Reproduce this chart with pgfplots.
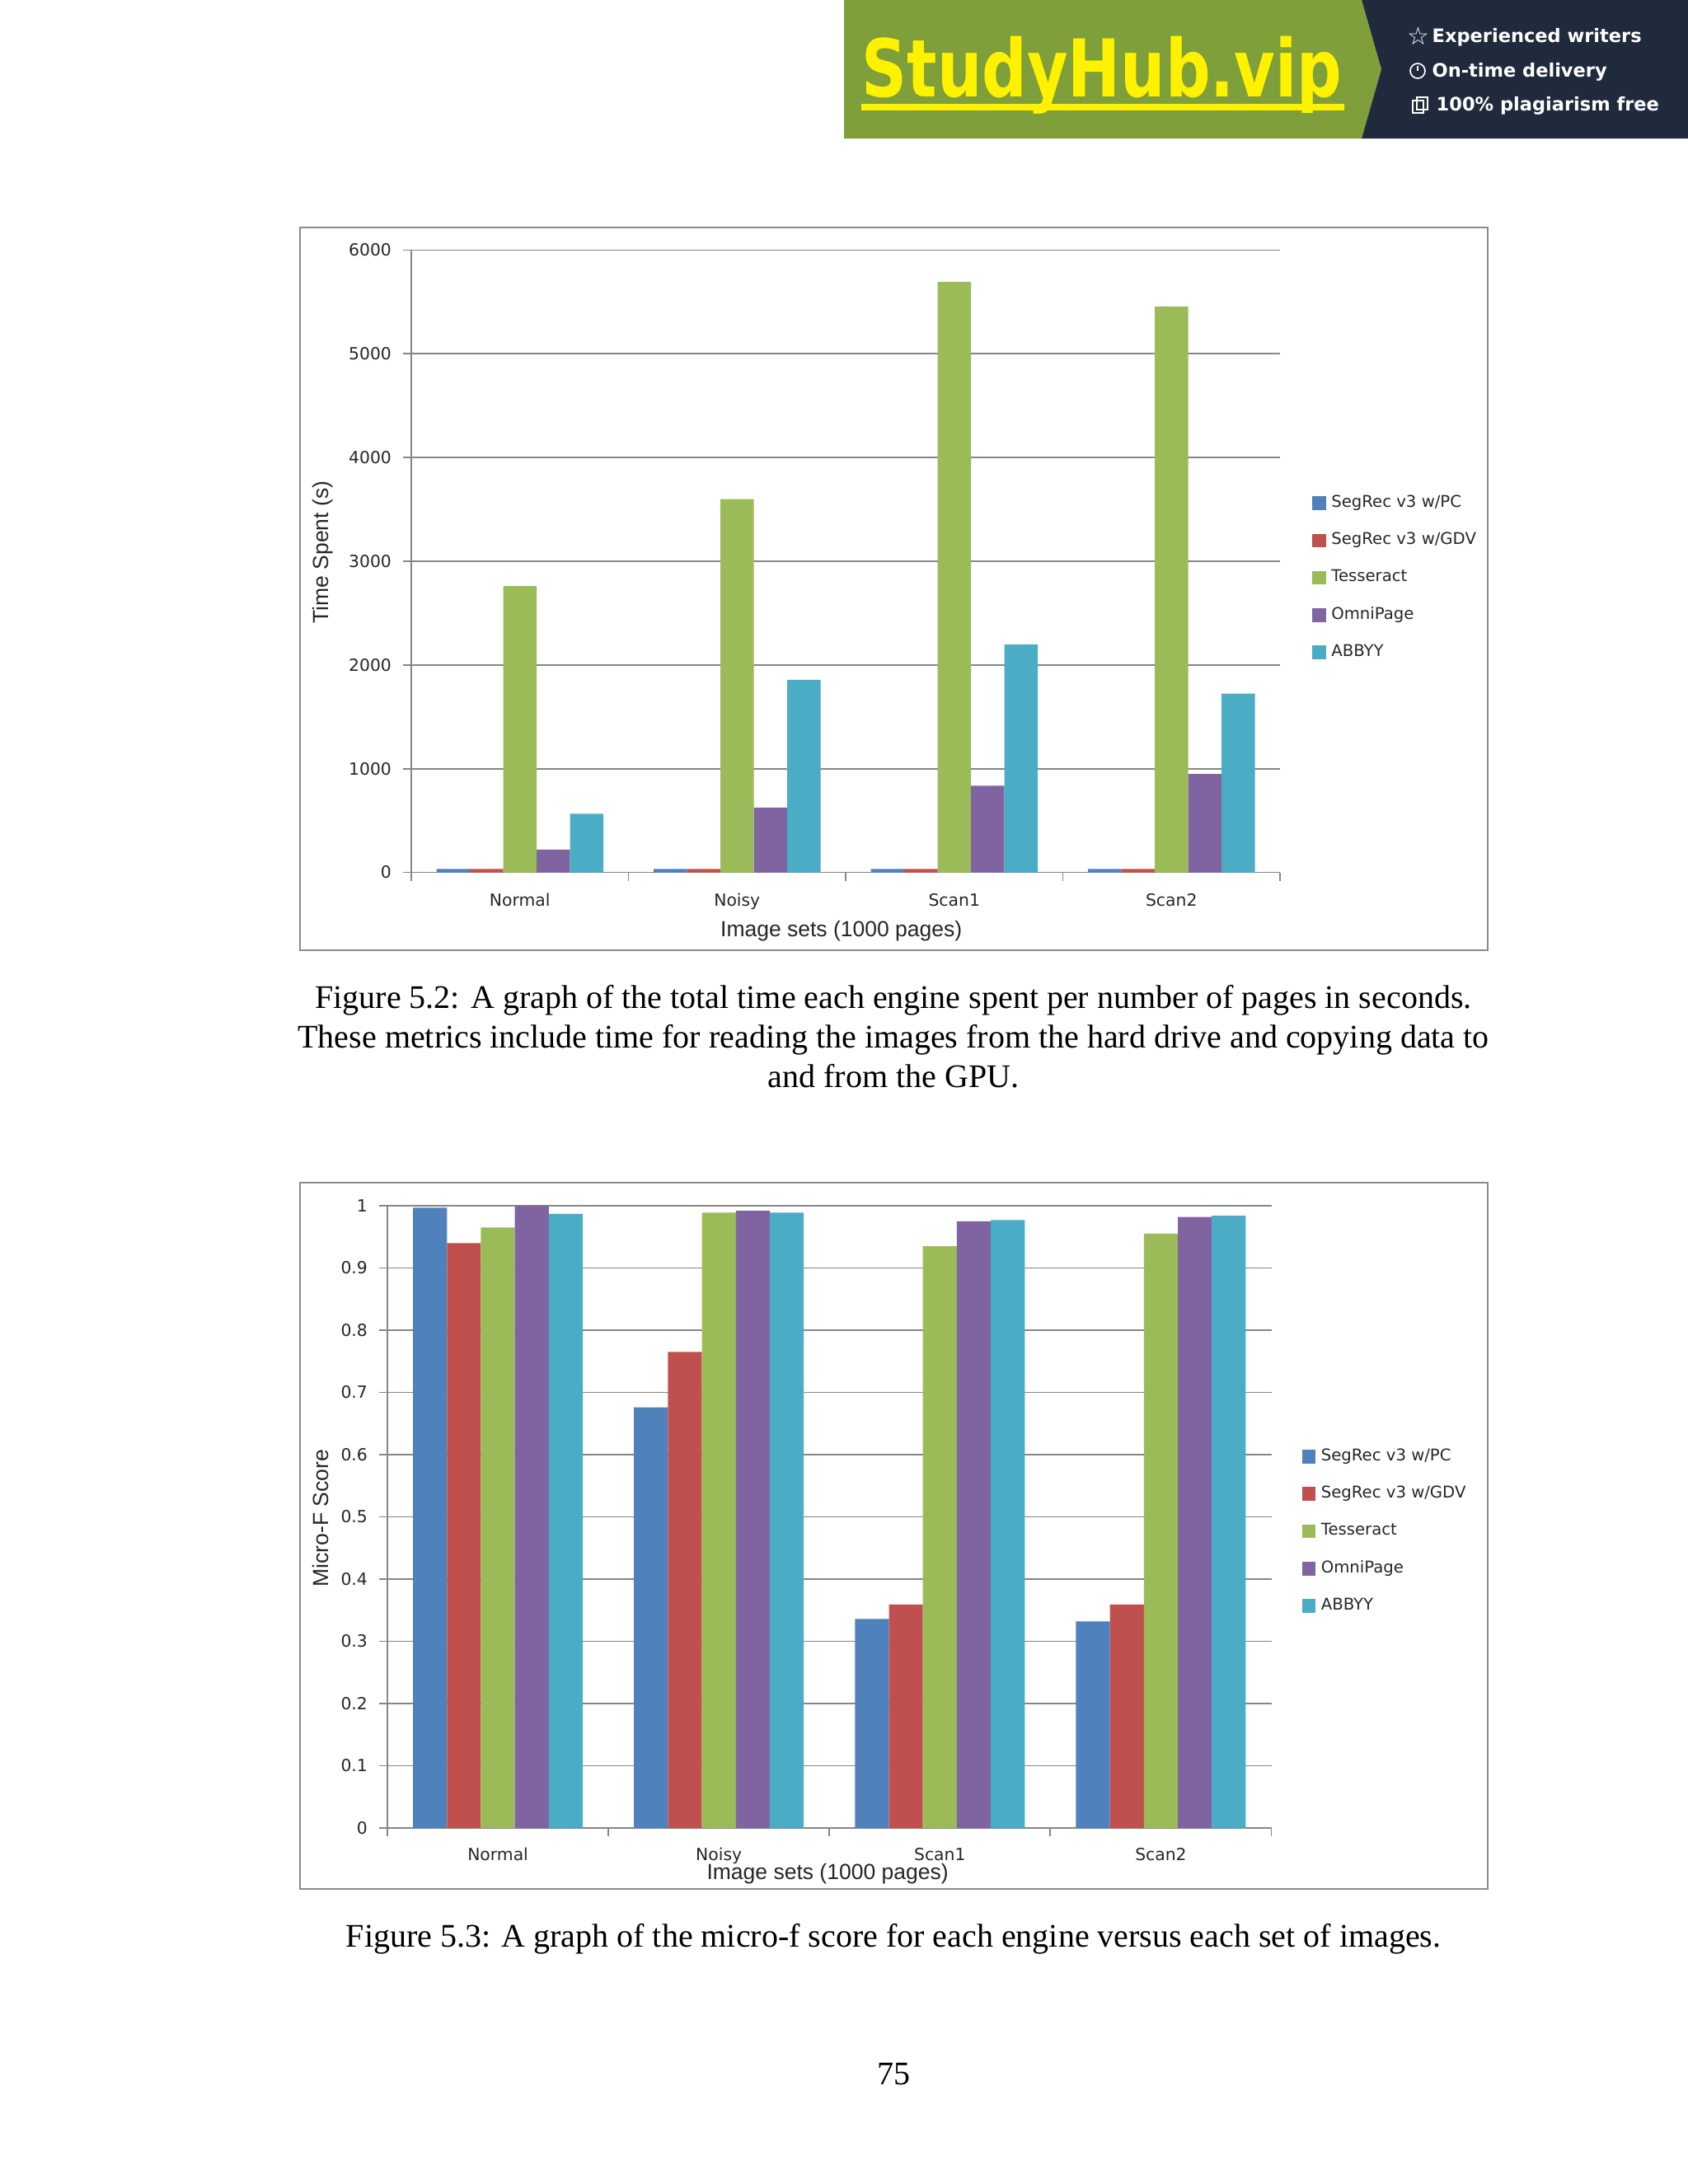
\documentclass[border=0pt]{standalone}
\usepackage{fontspec}
\usepackage{graphicx}
\setmainfont{Liberation Serif}
\newfontfamily\chartfont{DejaVu Sans}
\newfontfamily\labelfont{Liberation Sans}
\usepackage{pgfplots}
\usepackage{pgfplotstable}
\pgfplotsset{compat=1.18}

\definecolor{c1}{HTML}{4F81BD}
\definecolor{c2}{HTML}{C0504D}
\definecolor{c3}{HTML}{9BBB59}
\definecolor{c4}{HTML}{8064A2}
\definecolor{c5}{HTML}{4BACC6}
\definecolor{gridc}{HTML}{868686}
\definecolor{framec}{HTML}{8C8C8C}
\definecolor{bannergreen}{HTML}{7F9F3A}
\definecolor{bannerdark}{HTML}{1F2A3C}
\definecolor{tickc}{HTML}{262626}

% 1 px of the reference = 0.3pt
\pgfplotstableread{
x pc gdv tess omni abbyy
0 32 32 2760 219 566
1 32 32 3600 625 1857
2 32 32 5693 835 2199
3 32 32 5456 949 1724
}\timedata

\pgfplotstableread{
x pc gdv tess omni abbyy
0 0.997 0.940 0.965 1.000 0.987
1 0.676 0.765 0.989 0.992 0.989
2 0.336 0.359 0.935 0.975 0.977
3 0.332 0.359 0.955 0.982 0.984
}\scoredata

\pgfplotsset{
  swatch/.style={legend image code/.code={\fill[##1] (0pt,-2.5pt) rectangle (5pt,2.5pt);}},
  chartbase/.style={
    scale only axis,
    ybar=0pt,
    xmin=-0.5, xmax=3.5,
    ymin=0,
    xtick={-0.5,0.5,1.5,2.5,3.5},
    x tick label as interval,
    xticklabels={Normal,Noisy,Scan1,Scan2},
    axis x line*=bottom,
    axis y line*=left,
    axis line style={draw=gridc,line width=0.55pt},
    ymajorgrids,
    grid style={draw=gridc,line width=0.55pt},
    tick align=outside,
    tick style={draw=gridc,line width=0.55pt},
    major tick length=3pt,
    /pgf/number format/assume math mode=true,
    /pgf/number format/1000 sep={},
    tick label style={font=\chartfont\fontsize{6.1}{7}\selectfont,text=tickc},
    label style={font=\labelfont\fontsize{7.95}{10}\selectfont,text=tickc},
    legend cell align=left,
    legend style={draw=none,fill=none,inner sep=0pt,outer sep=0pt,
      font=\chartfont\fontsize{5.9}{7}\selectfont,text=tickc,
      row sep=3.7pt,
      /tikz/every even column/.append style={column sep=-1.3pt}},
    legend columns=1,
  },
}

\begin{document}
\begin{tikzpicture}
\path[use as bounding box] (0,0) rectangle (614.4pt,-795pt);

\begin{scope}[x=0.3pt,y=-0.3pt]
  % banner
  \fill[bannergreen] (1024,0) -- (1652,0) -- (1676,84) -- (1652,168) -- (1024,168) -- cycle;
  \fill[bannerdark] (1652,0) -- (2048,0) -- (2048,168) -- (1652,168) -- (1676,84) -- cycle;
  \node[anchor=base,text=yellow,inner sep=0pt] at (1337,117)
    {\scalebox{0.79}[1]{\chartfont\bfseries\fontsize{29}{30}\selectfont StudyHub.vip}};
  \fill[yellow] (1045,126) rectangle (1631,134);
  \node[anchor=base west,text=white,inner sep=0pt] at (1737,51) {\chartfont\bfseries\fontsize{6.75}{8}\selectfont Experienced writers};
  \node[anchor=base west,text=white,inner sep=0pt] at (1737,93) {\chartfont\bfseries\fontsize{6.75}{8}\selectfont On-time delivery};
  \node[anchor=base west,text=white,inner sep=0pt] at (1742,134) {\chartfont\bfseries\fontsize{6.75}{8}\selectfont 100\% plagiarism free};
  \node[text=white,inner sep=0pt] at (1721,44) {\chartfont\fontsize{9}{9}\selectfont ☆};
  \draw[white,line width=0.5pt] (1720,86) circle (9);
  \draw[white,line width=0.4pt] (1720,86) -- (1720,80);
  \draw[white,line width=0.5pt] (1714,122) rectangle (1727,137);
  \draw[white,line width=0.5pt] (1719,118) rectangle (1732,133);

  % frames round the two charts
  \draw[framec,line width=0.6pt] (364,276) rectangle (1805,1153);
  \draw[framec,line width=0.6pt] (364,1435) rectangle (1805,2292);

  % captions and page number
  \node[anchor=base,inner sep=0pt] at (1084,1223) {\fontsize{12}{14}\selectfont Figure 5.2: A graph of the total time each engine spent per number of pages in seconds.};
  \node[anchor=base,inner sep=0pt] at (1084,1271) {\fontsize{12}{14}\selectfont These metrics include time for reading the images from the hard drive and copying data to};
  \node[anchor=base,inner sep=0pt] at (1084,1319) {\fontsize{12}{14}\selectfont and from the GPU.};
  \node[anchor=base,inner sep=0pt] at (1084,2362) {\fontsize{12}{14}\selectfont Figure 5.3: A graph of the micro-f score for each engine versus each set of images.};
  \node[anchor=base,inner sep=0pt] at (1084,2529) {\fontsize{12}{14}\selectfont 75};
\end{scope}

% time spent
\begin{axis}[
  chartbase,
  at={(149.7pt,-317.55pt)}, anchor=south west,
  width=316.2pt, height=226.5pt,
  ymax=6000,
  ytick={0,1000,2000,3000,4000,5000,6000},
  bar width=12.15pt,
  xlabel={Image sets (1000 pages)},
  ylabel={Time Spent (s)},
  xlabel style={at={(axis description cs:0.495,-0.0947)},anchor=center},
  ylabel style={at={(axis description cs:-0.1015,0.5146)},anchor=center},
  xticklabel style={yshift=-1.1pt},
  yticklabel style={xshift=-0.7pt},
  legend style={at={(axis description cs:1.0370,0.6151)},anchor=north west},
]
\addplot[fill=c1,draw=none,swatch] table[x=x,y=pc] {\timedata};
\addlegendentry{SegRec v3 w/PC}
\addplot[fill=c2,draw=none,swatch] table[x=x,y=gdv] {\timedata};
\addlegendentry{SegRec v3 w/GDV}
\addplot[fill=c3,draw=none,swatch] table[x=x,y=tess] {\timedata};
\addlegendentry{Tesseract}
\addplot[fill=c4,draw=none,swatch] table[x=x,y=omni] {\timedata};
\addlegendentry{OmniPage}
\addplot[fill=c5,draw=none,swatch] table[x=x,y=abbyy] {\timedata};
\addlegendentry{ABBYY}
\end{axis}

% micro-f score
\begin{axis}[
  chartbase,
  at={(141pt,-665.4pt)}, anchor=south west,
  width=321.75pt, height=226.5pt,
  ymax=1,
  ytick={0,0.1,0.2,0.3,0.4,0.5,0.6,0.7,0.8,0.9,1},
  bar width=12.36pt,
  xlabel={Image sets (1000 pages)},
  ylabel={Micro-F Score},
  xlabel style={at={(axis description cs:0.498,-0.0742)},anchor=center},
  ylabel style={at={(axis description cs:-0.0755,0.498)},anchor=center},
  xticklabel style={yshift=-0.7pt},
  yticklabel style={xshift=-0.7pt},
  legend style={at={(axis description cs:1.0345,0.6185)},anchor=north west},
]
\addplot[fill=c1,draw=none,swatch] table[x=x,y=pc] {\scoredata};
\addlegendentry{SegRec v3 w/PC}
\addplot[fill=c2,draw=none,swatch] table[x=x,y=gdv] {\scoredata};
\addlegendentry{SegRec v3 w/GDV}
\addplot[fill=c3,draw=none,swatch] table[x=x,y=tess] {\scoredata};
\addlegendentry{Tesseract}
\addplot[fill=c4,draw=none,swatch] table[x=x,y=omni] {\scoredata};
\addlegendentry{OmniPage}
\addplot[fill=c5,draw=none,swatch] table[x=x,y=abbyy] {\scoredata};
\addlegendentry{ABBYY}
\end{axis}
\end{tikzpicture}
\end{document}
